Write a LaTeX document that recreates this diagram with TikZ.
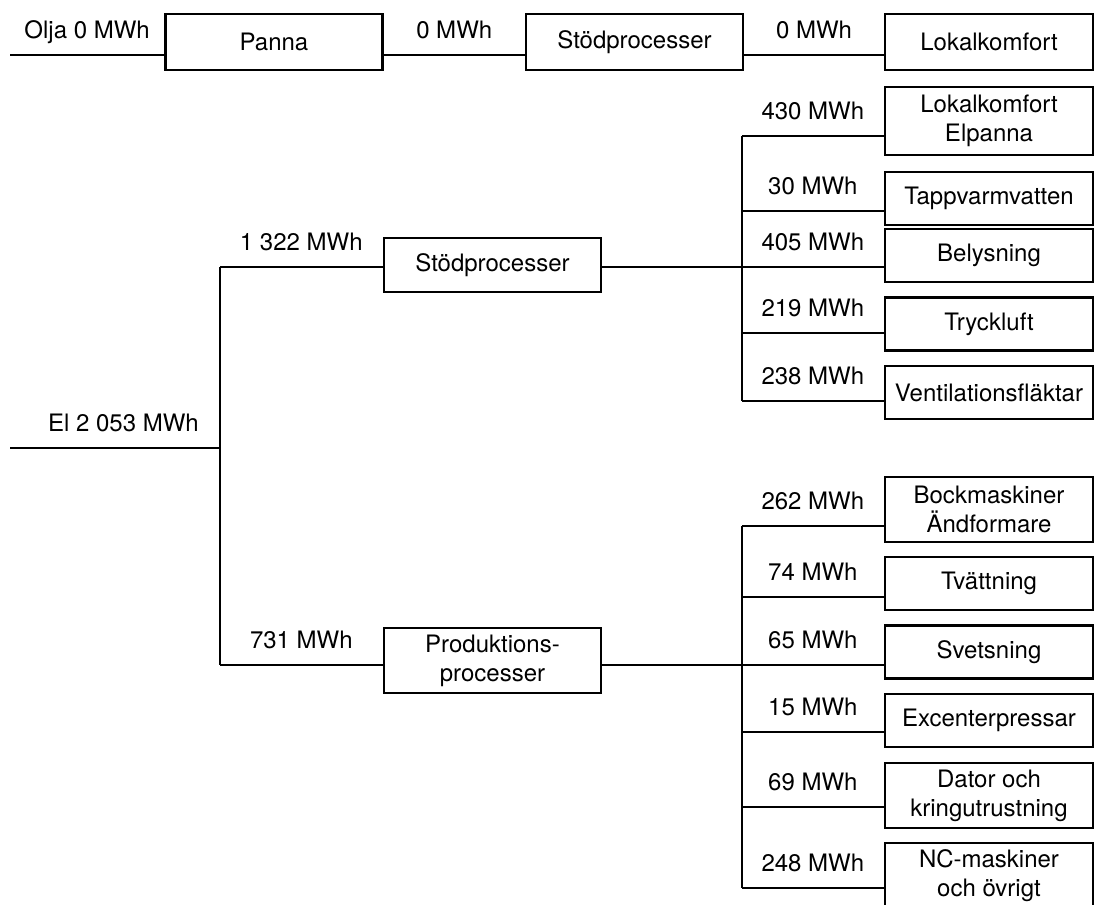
\documentclass[tikz,border=0pt]{standalone}
\usepackage{fontspec}
\setmainfont{TeX Gyre Heros}
\usetikzlibrary{positioning}

\begin{document}
\begin{tikzpicture}[
  x=0.5pt,y=-0.5pt,
  font=\fontsize{12}{14.5}\selectfont,
  box/.style={draw,line width=1.3pt,align=center,inner sep=0pt,minimum width=108.5pt,minimum height=27pt},
  sink/.style={box,minimum width=104pt,minimum height=26.5pt},
  flow/.style={line width=1.3pt},
  lbl/.style={above=7.5pt,inner sep=0pt,text depth=0pt}]
\path[use as bounding box] (0,0) rectangle (1095,904);
% oil
\node[box,minimum height=28pt] (panna) at (274,42) {Panna};
\node[box,minimum height=28pt] (stodA) at (634.5,42) {Stödprocesser};
\node[sink,minimum height=28pt] (komfA) at (989,42) {Lokalkomfort};
\coordinate (olja) at (10,55);
\draw[flow] (olja) -- node[lbl]{Olja 0 MWh} (olja -| panna.west);
\draw[flow] (panna.east |- olja) -- node[lbl]{0 MWh} (olja -| stodA.west);
\draw[flow] (stodA.east |- olja) -- node[lbl]{0 MWh} (olja -| komfA.west);

% electricity
\node[box] (stodB) at (492.5,265) {Stödprocesser};
\node[box,minimum height=32.5pt] (prod) at (492.5,660.5) {Produktions-\\processer};
\coordinate (el) at (10,448);
\coordinate (elsplit) at (220,448);
\coordinate (stodin) at (220,267);
\coordinate (prodin) at (220,665);
\draw[flow] (el) -- node[lbl,pos=.54]{El 2 053 MWh} (elsplit);
\draw[flow] (stodin) -- (prodin);
\draw[flow] (stodin) -- node[lbl]{1 322 MWh} (stodin -| stodB.west);
\draw[flow] (prodin) -- node[lbl]{731 MWh} (prodin -| prod.west);

% support processes
\node[sink,minimum height=34pt] (elpanna) at (989,121) {Lokalkomfort\\Elpanna};
\node[sink] (tapp) at (989,198.5) {Tappvarmvatten};
\node[sink] (belys) at (989,255.5) {Belysning};
\node[sink] (tryck) at (989,324) {Tryckluft};
\node[sink] (vent) at (989,392.5) {Ventilationsfläktar};
\coordinate (stodbus) at (742,267);
\draw[flow] (stodB.east |- stodbus) -- (stodbus);
\draw[flow] (742,136) coordinate (elpin) -- node[lbl]{430 MWh} (elpin -| elpanna.west);
\draw[flow] (742,211) coordinate (tappin) -- node[lbl]{30 MWh} (tappin -| tapp.west);
\draw[flow] (stodbus) -- node[lbl]{405 MWh} (stodbus -| belys.west);
\draw[flow] (742,333) coordinate (tryckin) -- node[lbl]{219 MWh} (tryckin -| tryck.west);
\draw[flow] (742,401) coordinate (ventin) -- node[lbl]{238 MWh} (ventin -| vent.west);
\draw[flow] (elpin) -- (ventin);

% production processes
\node[sink,minimum height=32.5pt] (bock) at (989,509.5) {Bockmaskiner\\Ändformare};
\node[sink] (tvatt) at (989,583.5) {Tvättning};
\node[sink] (svets) at (989,652) {Svetsning};
\node[sink] (excent) at (989,720.5) {Excenterpressar};
\node[sink,minimum height=32.5pt] (dator) at (989,795.5) {Dator och\\kringutrustning};
\node[sink,minimum height=32.5pt] (ncmask) at (989,875.5) {NC-maskiner\\och övrigt};
\coordinate (prodbus) at (742,665);
\draw[flow] (prod.east |- prodbus) -- (prodbus);
\draw[flow] (742,526) coordinate (bockin) -- node[lbl]{262 MWh} (bockin -| bock.west);
\draw[flow] (742,597) coordinate (tvattin) -- node[lbl]{74 MWh} (tvattin -| tvatt.west);
\draw[flow] (prodbus) -- node[lbl]{65 MWh} (prodbus -| svets.west);
\draw[flow] (742,732) coordinate (excentin) -- node[lbl]{15 MWh} (excentin -| excent.west);
\draw[flow] (742,807) coordinate (datorin) -- node[lbl]{69 MWh} (datorin -| dator.west);
\draw[flow] (742,888) coordinate (ncin) -- node[lbl]{248 MWh} (ncin -| ncmask.west);
\draw[flow] (bockin) -- (ncin);
\end{tikzpicture}
\end{document}
